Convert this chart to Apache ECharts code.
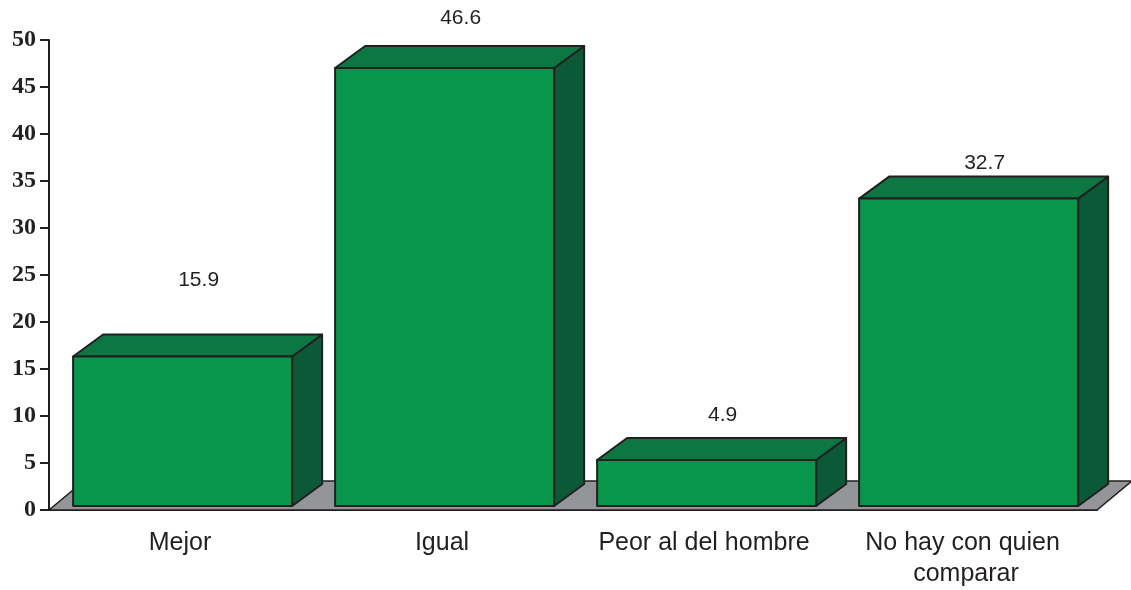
<!DOCTYPE html>
<html>
<head>
<meta charset="utf-8">
<script src="https://cdn.jsdelivr.net/npm/echarts@6/dist/echarts.min.js"></script>
<style>
  html, body { margin: 0; padding: 0; background: #fff; }
  #chart { width: 1131px; height: 590px; }
</style>
</head>
<body>
<div id="chart"></div>
<script>
var categories = ['Mejor', 'Igual', 'Peor al del hombre', 'No hay con quien comparar']
var values = [15.9, 46.6, 4.9, 32.7]
var yTicks = { min: 0, max: 50, interval: 5 }

// how far above each bar Excel put its label (px)
var labelLift = [54, 28, 23, 13]

var DX = 30, DY = -22   // bar depth
var FX = 35, FY = -29   // floor depth
var LIFT = 4            // bars sit slightly back on the floor
var INK = '#231f20'

function renderFloor (params, api) {
  var cs = params.coordSys
  var yb = cs.y + cs.height
  return {
    type: 'polygon',
    shape: {
      points: [[cs.x, yb], [cs.x + cs.width, yb], [cs.x + cs.width + FX, yb + FY], [cs.x + FX, yb + FY]]
    },
    style: { fill: '#939598', stroke: INK, lineWidth: 1.5 }
  }
}

function renderBar (params, api) {
  var i = api.value(0)
  var top = api.coord([i, api.value(1)])
  var base = api.coord([i, 0])
  var band = api.size([1, 0])[0]
  var w = band * 0.836
  var x0 = top[0] - band * 0.408
  var ty = top[1] - LIFT
  var by = base[1] - LIFT
  var line = { stroke: INK, lineWidth: 2, lineJoin: 'round' }
  return {
    type: 'group',
    children: [
      {
        type: 'polygon',
        shape: { points: [[x0 + w, ty], [x0 + w + DX, ty + DY], [x0 + w + DX, by + DY], [x0 + w, by]] },
        style: Object.assign({ fill: '#0c5938' }, line)
      },
      {
        type: 'polygon',
        shape: { points: [[x0, ty], [x0 + w, ty], [x0 + w + DX, ty + DY], [x0 + DX, ty + DY]] },
        style: Object.assign({ fill: '#0d7743' }, line)
      },
      {
        type: 'rect',
        shape: { x: x0, y: ty, width: w, height: by - ty },
        style: Object.assign({ fill: '#07964b' }, line)
      },
      {
        type: 'text',
        style: {
          text: String(api.value(1)),
          x: x0 + w / 2 + 16,
          y: ty + DY - labelLift[i],
          align: 'center',
          verticalAlign: 'middle',
          fontFamily: 'Liberation Sans, Arial, sans-serif',
          fontSize: 21,
          fill: INK
        }
      }
    ]
  }
}

var chart = echarts.init(document.getElementById('chart'))
chart.setOption({
  animation: false,
  grid: { left: 49, right: 34, top: 40, bottom: 77 },
  xAxis: {
    type: 'category',
    data: categories,
    boundaryGap: true,
    axisLine: { lineStyle: { color: INK, width: 2 } },
    axisTick: { length: 9, lineStyle: { color: INK, width: 2 } },
    axisLabel: {
      interval: 0,
      margin: 18,
      color: INK,
      fontFamily: 'Liberation Sans, Arial, sans-serif',
      fontSize: 25,
      lineHeight: 31,
      width: 250,
      overflow: 'break'
    }
  },
  yAxis: {
    type: 'value',
    min: yTicks.min,
    max: yTicks.max,
    interval: yTicks.interval,
    splitLine: { show: false },
    axisLine: { show: true, lineStyle: { color: INK, width: 2 } },
    axisTick: { show: true, length: 9, lineStyle: { color: INK, width: 2 } },
    axisLabel: {
      margin: 13,
      color: INK,
      fontFamily: 'Liberation Serif, Times New Roman, serif',
      fontWeight: 'bold',
      fontSize: 24
    }
  },
  series: [
    {
      type: 'custom',
      renderItem: renderFloor,
      data: [[0, 0]],
      clip: false,
      silent: true,
      z: 1
    },
    {
      type: 'custom',
      renderItem: renderBar,
      data: values.map(function (v, i) { return [i, v] }),
      encode: { x: 0, y: 1 },
      clip: false,
      z: 2
    }
  ]
})
</script>
</body>
</html>
